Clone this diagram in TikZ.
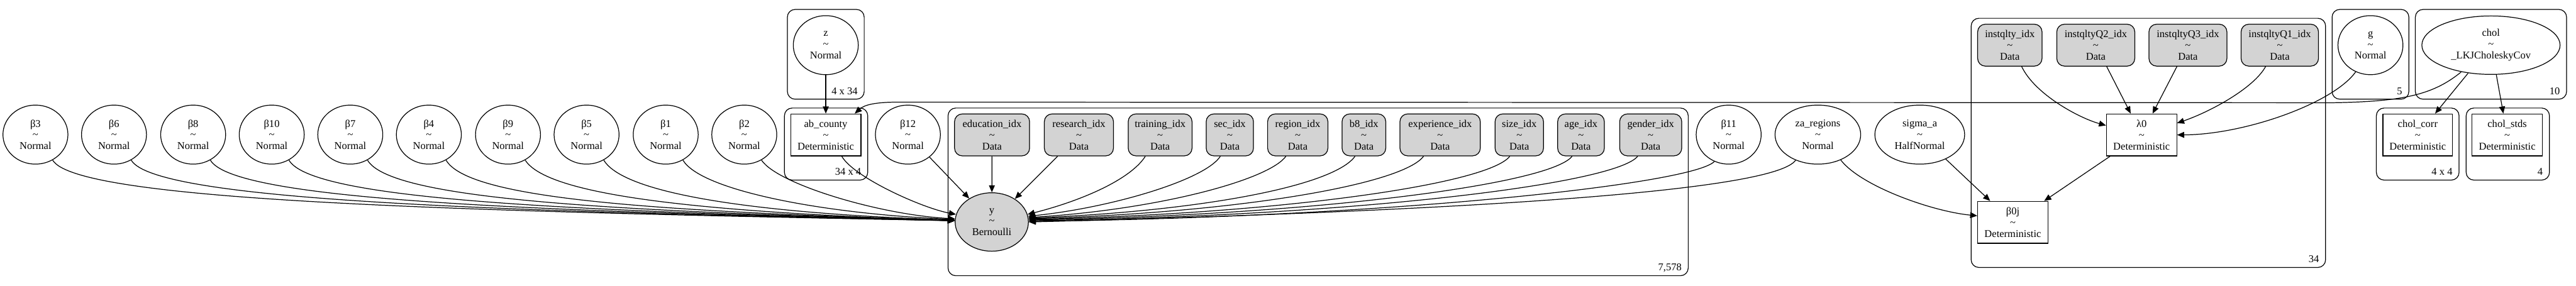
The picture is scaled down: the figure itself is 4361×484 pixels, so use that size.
\documentclass[tikz,border=0pt]{standalone}
\usepackage{fontspec}
\setmainfont{Liberation Serif}
\usetikzlibrary{shapes.geometric,arrows.meta}
\definecolor{gvgray}{HTML}{D3D3D3}
\tikzset{
  lbl/.style={font=\fontsize{17.6}{19}\selectfont, align=center, inner sep=0pt},
  rv/.style={lbl, ellipse, draw, line width=1.3pt, minimum width=110pt, minimum height=100pt},
  obsrv/.style={rv, fill=gvgray},
  datanode/.style={lbl, rectangle, rounded corners=13pt, draw, fill=gvgray, minimum height=71pt, line width=1.3pt},
  detnode/.style={lbl, rectangle, draw, minimum width=119pt, minimum height=71pt, line width=1.3pt},
  plate/.style={draw, rounded corners=13pt, line width=1.3pt},
  platelbl/.style={font=\fontsize{17.6}{19}\selectfont, inner sep=0pt, anchor=base east},
  conn/.style={line width=1.3pt, -{Triangle[length=12pt,width=10pt]}},
}
\newcommand{\tl}{\textasciitilde}
\begin{document}
\begin{tikzpicture}[x=1pt,y=-1pt]
\useasboundingbox (0,0) rectangle (4361,484);
% plates
\draw[plate] (1333,16) rectangle (1463,168);
\node[platelbl] (plz) at (1452,160) {4 x 34};
\draw[plate] (1328,183) rectangle (1469,305);
\node[platelbl] (plab) at (1458,297) {34 x 4};
\draw[plate] (1605,183) rectangle (2858,467);
\node[platelbl] (plobs) at (2847,458) {7,578};
\draw[plate] (3337,31) rectangle (3937,453);
\node[platelbl] (plreg) at (3926,444) {34};
\draw[plate] (3948,16) rectangle (4078,168);
\node[platelbl] (plg) at (4067,160) {5};
\draw[plate] (4089,16) rectangle (4345,168);
\node[platelbl] (plchol) at (4334,160) {10};
\draw[plate] (4023,183) rectangle (4163,305);
\node[platelbl] (plcorr) at (4152,297) {4 x 4};
\draw[plate] (4175,183) rectangle (4316,305);
\node[platelbl] (plstd) at (4305,297) {4};
% beta nodes
\node[rv] (b3) at (60,228) {β3\\\tl\\Normal};
\node[rv] (b6) at (193,228) {β6\\\tl\\Normal};
\node[rv] (b8) at (327,228) {β8\\\tl\\Normal};
\node[rv] (b10) at (460,228) {β10\\\tl\\Normal};
\node[rv] (b7) at (593,228) {β7\\\tl\\Normal};
\node[rv] (b4) at (726,228) {β4\\\tl\\Normal};
\node[rv] (b9) at (860,228) {β9\\\tl\\Normal};
\node[rv] (b5) at (993,228) {β5\\\tl\\Normal};
\node[rv] (b1) at (1127,228) {β1\\\tl\\Normal};
\node[rv] (b2) at (1260,228) {β2\\\tl\\Normal};
\node[rv] (z) at (1398,76.5) {z\\\tl\\Normal};
\node[detnode] (ab) at (1398,228.5) {ab\_county\\\tl\\Deterministic};
\node[rv] (b12) at (1537,228) {β12\\\tl\\Normal};
\node[obsrv, minimum width=124pt, minimum height=99pt] (y) at (1679,376) {y\\\tl\\Bernoulli};
% data nodes
\node[datanode, minimum width=127pt] (edu) at (1679.5,228.5) {education\_idx\\\tl\\Data};
\node[datanode, minimum width=117pt] (res) at (1826.5,228.5) {research\_idx\\\tl\\Data};
\node[datanode, minimum width=108pt] (tra) at (1964,228.5) {training\_idx\\\tl\\Data};
\node[datanode, minimum width=80pt] (sec) at (2082,228.5) {sec\_idx\\\tl\\Data};
\node[datanode, minimum width=102pt] (reg) at (2197,228.5) {region\_idx\\\tl\\Data};
\node[datanode, minimum width=74pt] (b8i) at (2309,228.5) {b8\_idx\\\tl\\Data};
\node[datanode, minimum width=136pt] (exp) at (2438,228.5) {experience\_idx\\\tl\\Data};
\node[datanode, minimum width=82pt] (siz) at (2572,228.5) {size\_idx\\\tl\\Data};
\node[datanode, minimum width=79pt] (age) at (2676.5,228.5) {age\_idx\\\tl\\Data};
\node[datanode, minimum width=105pt] (gen) at (2794.5,228.5) {gender\_idx\\\tl\\Data};
\node[rv] (b11) at (2926.5,228) {β11\\\tl\\Normal};
\node[rv, minimum width=145pt] (za) at (3077.5,228) {za\_regions\\\tl\\Normal};
\node[rv, minimum width=152pt] (sig) at (3250,228) {sigma\_a\\\tl\\HalfNormal};
% region plate
\node[datanode, minimum width=109pt] (iq) at (3402.5,76.5) {instqlty\_idx\\\tl\\Data};
\node[datanode, minimum width=132pt] (iq2) at (3548,76.5) {instqltyQ2\_idx\\\tl\\Data};
\node[datanode, minimum width=132pt] (iq3) at (3704,76.5) {instqltyQ3\_idx\\\tl\\Data};
\node[datanode, minimum width=131pt] (iq1) at (3859.5,76.5) {instqltyQ1\_idx\\\tl\\Data};
\node[detnode] (lam) at (3625.5,228.5) {λ0\\\tl\\Deterministic};
\node[detnode] (b0j) at (3407.5,376.5) {β0j\\\tl\\Deterministic};
\node[rv] (g) at (4013,76.5) {g\\\tl\\Normal};
\node[rv, minimum width=234pt, minimum height=99pt] (chol) at (4217,76.5) {chol\\\tl\\\_LKJCholeskyCov};
\node[detnode, minimum width=118pt] (corr) at (4093,228.5) {chol\_corr\\\tl\\Deterministic};
\node[detnode] (std) at (4244.5,228.5) {chol\_stds\\\tl\\Deterministic};
% edges into y from the left
\draw[conn] (b3.-56) .. controls (129,341) and (777,358) .. (y.178);
\draw[conn] (b6.-56) .. controls (262,341) and (850,358) .. (y.178);
\draw[conn] (b8.-56) .. controls (396,341) and (923,358) .. (y.178);
\draw[conn] (b10.-56) .. controls (529,341) and (997,358) .. (y.178);
\draw[conn] (b7.-56) .. controls (662,341) and (1070,358) .. (y.178);
\draw[conn] (b4.-56) .. controls (795,341) and (1143,358) .. (y.178);
\draw[conn] (b9.-56) .. controls (929,335) and (1217,360) .. (y.178);
\draw[conn] (b5.-56) .. controls (1057,330) and (1290,362) .. (y.177);
\draw[conn] (b1.-56) .. controls (1186,322) and (1390,362) .. (y.176);
\draw[conn] (b2.-56) .. controls (1316,312) and (1490,364) .. (y.175);
\draw[conn] ([xshift=27pt]ab.south) .. controls (1445,300) and (1560,352) .. (y.168);
\draw[conn] (b12) -- (y);
\draw[conn] (edu) -- (y);
\draw[conn] (res) -- (y);
% edges into y from the right
\draw[conn] ([xshift=-25pt]tra.south) .. controls (1914,304) and (1831,340) .. (y.12);
\draw[conn] ([xshift=-16pt]sec.south) .. controls (2040,305) and (1880,352) .. (y.9);
\draw[conn] ([xshift=-20pt]reg.south) .. controls (2148,305) and (1960,355) .. (y.7);
\draw[conn] ([xshift=-15pt]b8i.south) .. controls (2259,314) and (2041,357) .. (y.6);
\draw[conn] ([xshift=-28pt]exp.south) .. controls (2375,312) and (2100,360) .. (y.5);
\draw[conn] ([xshift=-16pt]siz.south) .. controls (2520,312) and (2170,362) .. (y.4);
\draw[conn] ([xshift=-15pt]age.south) .. controls (2625,312) and (2230,364) .. (y.3);
\draw[conn] ([xshift=-22pt]gen.south) .. controls (2735,312) and (2290,366) .. (y.2);
\draw[conn] (b11.-118) .. controls (2865,312) and (2350,368) .. (y.1);
\draw[conn] (za.-131) .. controls (3005,322) and (2521,356) .. (y.0);
% other edges
\draw[conn] (z) -- (ab);
\draw[conn] (za.-48) .. controls (3150,315) and (3270,358) .. ([yshift=11pt]b0j.west);
\draw[conn] (sig) -- (b0j);
\draw[conn] (lam) -- (b0j);
\draw[conn] ([xshift=20pt]iq.south) .. controls (3445,160) and (3520,200) .. ([yshift=16pt]lam.west);
\draw[conn] (iq2) -- (lam);
\draw[conn] (iq3) -- (lam);
\draw[conn] ([xshift=-24pt]iq1.south) .. controls (3815,150) and (3740,190) .. ([yshift=20pt]lam.east);
\draw[conn] (g.-119) .. controls (3950,175) and (3800,228) .. (lam.east);
\draw[conn] (chol) -- (corr);
\draw[conn] (chol) -- (std);
\draw[conn] (chol.-138) .. controls (4120,160) and (4070,172) .. (3950,174) -- (1520,173) .. controls (1480,173) and (1463,178) .. ([xshift=49pt]ab.north);
\end{tikzpicture}
\end{document}
